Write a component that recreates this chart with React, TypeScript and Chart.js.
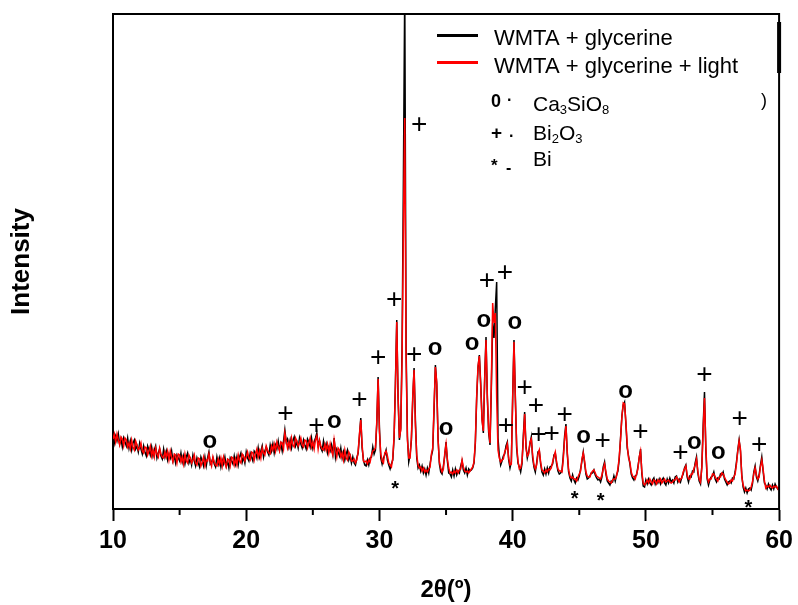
import React, { useEffect, useRef } from "react";
import { Chart, registerables } from "chart.js";

Chart.register(...registerables);

// ---- data ----
const TWO_THETA_START = 10;
const TWO_THETA_STEP = 0.1;

// WMTA + glycerine (black), one value every 0.1° from 10° to 60°
const intensityGlycerine: number[] = [
  75, 65, 72, 67, 74, 64, 69, 61, 70, 66,
  62, 70, 60, 67, 58, 65, 68, 59, 62, 56,
  65, 59, 54, 62, 56, 52, 62, 58, 53, 61,
  52, 58, 62, 50, 55, 59, 52, 49, 59, 51,
  57, 48, 54, 50, 57, 47, 52, 45, 53, 50,
  47, 55, 46, 52, 44, 51, 55, 45, 49, 43,
  53, 47, 42, 50, 45, 41, 51, 47, 42, 51,
  42, 50, 56, 44, 46, 50, 44, 41, 51, 44,
  50, 41, 48, 44, 51, 42, 47, 40, 50, 47,
  44, 52, 44, 51, 43, 51, 55, 46, 51, 45,
  56, 50, 47, 55, 51, 47, 57, 55, 50, 60,
  51, 57, 62, 51, 57, 61, 56, 53, 63, 57,
  64, 55, 63, 59, 67, 58, 64, 57, 67, 78,
  66, 69, 61, 68, 60, 67, 71, 62, 66, 60,
  70, 64, 60, 68, 63, 59, 69, 66, 61, 70,
  60, 66, 70, 75, 63, 67, 60, 57, 67, 59,
  64, 55, 61, 57, 63, 54, 70, 51, 59, 56,
  52, 60, 50, 56, 48, 54, 58, 48, 52, 45,
  51, 45, 43, 50, 55, 72, 90, 60, 48, 43,
  42, 48, 43, 50, 51, 61, 54, 58, 84, 131,
  80, 50, 44, 50, 53, 58, 48, 43, 39, 44,
  48, 70, 125, 188, 110, 68, 80, 160, 330, 520,
  160, 72, 46, 53, 68, 108, 140, 88, 50, 40,
  43, 37, 42, 35, 39, 33, 40, 35, 44, 52,
  58, 98, 143, 124, 70, 44, 36, 34, 42, 52,
  66, 47, 35, 34, 31, 38, 32, 39, 33, 37,
  35, 42, 47, 38, 35, 40, 33, 39, 37, 38,
  40, 45, 65, 110, 140, 153, 125, 90, 75, 130,
  171, 110, 75, 63, 120, 185, 170, 200, 226, 70,
  52, 43, 47, 52, 54, 62, 66, 48, 40, 46,
  110, 168, 112, 60, 45, 41, 36, 44, 72, 96,
  62, 50, 56, 64, 71, 50, 41, 36, 45, 56,
  57, 44, 36, 33, 39, 34, 40, 35, 41, 42,
  44, 53, 55, 44, 37, 34, 35, 37, 52, 72,
  84, 54, 36, 30, 27, 33, 28, 25, 30, 28,
  32, 39, 47, 56, 45, 34, 29, 30, 32, 35,
  35, 38, 33, 30, 28, 29, 26, 31, 41, 46,
  34, 27, 25, 23, 27, 26, 32, 27, 33, 37,
  49, 70, 92, 103, 106, 84, 60, 52, 44, 34,
  30, 28, 32, 33, 41, 50, 59, 34, 22, 21,
  28, 24, 29, 25, 23, 28, 30, 24, 28, 25,
  29, 24, 28, 30, 25, 23, 29, 25, 30, 26,
  28, 25, 31, 32, 26, 29, 26, 31, 34, 40,
  43, 31, 26, 32, 31, 37, 36, 45, 51, 35,
  27, 24, 42, 82, 116, 58, 29, 23, 28, 31,
  32, 36, 29, 26, 30, 29, 34, 33, 36, 29,
  26, 23, 26, 27, 25, 30, 29, 36, 46, 58,
  68, 57, 33, 21, 16, 20, 15, 19, 20, 18,
  24, 36, 42, 31, 27, 33, 43, 51, 37, 25,
  23, 19, 24, 20, 18, 23, 19, 24, 21, 19,
  20,
];

// WMTA + glycerine + light (red)
const intensityGlycerineLight: number[] = [
  69, 74, 66, 74, 68, 63, 71, 69, 62, 70,
  68, 61, 65, 59, 68, 61, 58, 67, 63, 58,
  60, 65, 57, 55, 61, 60, 53, 57, 62, 52,
  58, 51, 60, 54, 51, 60, 54, 51, 50, 56,
  51, 57, 48, 57, 51, 46, 54, 53, 45, 54,
  53, 46, 51, 44, 54, 47, 45, 53, 50, 45,
  48, 53, 45, 43, 50, 49, 42, 46, 51, 42,
  48, 47, 54, 47, 42, 51, 46, 43, 42, 49,
  44, 50, 42, 51, 45, 41, 49, 48, 42, 51,
  50, 43, 49, 43, 53, 47, 45, 54, 52, 47,
  51, 56, 50, 48, 56, 55, 48, 54, 59, 51,
  57, 50, 60, 55, 53, 62, 58, 55, 54, 62,
  58, 64, 57, 66, 61, 57, 66, 65, 59, 75,
  67, 60, 66, 60, 70, 63, 61, 70, 67, 62,
  65, 70, 63, 61, 68, 67, 60, 65, 70, 61,
  66, 59, 68, 72, 59, 68, 62, 59, 58, 64,
  58, 64, 55, 64, 57, 53, 68, 59, 51, 60,
  58, 51, 55, 48, 58, 50, 48, 56, 53, 47,
  47, 49, 45, 48, 56, 74, 88, 63, 47, 46,
  47, 44, 48, 46, 53, 57, 58, 60, 86, 129,
  76, 54, 47, 45, 55, 57, 52, 45, 43, 41,
  50, 72, 122, 186, 112, 70, 78, 150, 280, 390,
  150, 68, 50, 50, 71, 112, 138, 82, 53, 43,
  40, 41, 37, 40, 36, 38, 36, 39, 41, 54,
  60, 102, 141, 126, 68, 46, 40, 36, 39, 54,
  64, 49, 40, 35, 36, 34, 37, 35, 38, 35,
  38, 39, 48, 41, 37, 36, 37, 35, 37, 39,
  41, 46, 67, 112, 142, 152, 122, 88, 77, 128,
  168, 112, 78, 65, 125, 205, 185, 195, 110, 58,
  50, 46, 48, 49, 56, 59, 64, 50, 43, 44,
  108, 166, 110, 63, 47, 39, 40, 46, 68, 94,
  60, 52, 54, 66, 69, 53, 43, 39, 43, 54,
  58, 46, 38, 37, 35, 38, 36, 39, 38, 40,
  46, 51, 56, 46, 39, 37, 37, 36, 49, 69,
  82, 56, 38, 32, 30, 31, 29, 29, 27, 31,
  34, 37, 49, 55, 47, 36, 32, 31, 31, 35,
  37, 38, 35, 32, 31, 30, 29, 33, 39, 44,
  36, 29, 27, 26, 25, 28, 29, 29, 32, 39,
  51, 69, 91, 105, 104, 86, 63, 50, 46, 36,
  32, 31, 29, 34, 39, 51, 57, 36, 25, 23,
  25, 28, 25, 29, 26, 24, 28, 27, 24, 28,
  26, 29, 25, 27, 29, 26, 27, 28, 26, 25,
  26, 28, 28, 31, 29, 26, 29, 30, 36, 39,
  42, 33, 29, 29, 34, 34, 39, 43, 49, 37,
  29, 26, 40, 78, 110, 62, 31, 26, 29, 29,
  34, 34, 31, 29, 27, 31, 31, 35, 34, 31,
  28, 26, 24, 25, 28, 27, 31, 34, 44, 57,
  67, 59, 31, 23, 19, 17, 18, 17, 18, 21,
  26, 34, 40, 33, 29, 31, 41, 48, 39, 27,
  20, 22, 21, 23, 21, 20, 22, 21, 22, 19,
  21,
];

const seriesNames = ["WMTA + glycerine", "WMTA + glycerine + light"];
const seriesColors = ["#000000", "#ff0000"];

const xMin = 10;
const xMax = 60;
const xMinorStep = 5;
const xLabelStep = 10;

// phase marks: [2θ, intensity at which the symbol sits]
const ca3sio8Marks: number[][] = [
  [17.26, 66], [26.62, 86], [34.18, 159], [35.0, 79], [36.95, 164], [37.84, 187],
  [40.16, 185], [45.33, 71], [48.47, 116], [53.64, 65], [55.43, 55],
];
const bi2o3Marks: number[][] = [
  [22.95, 96], [25.27, 84], [28.49, 110], [29.91, 152], [31.11, 210], [32.98, 385],
  [32.6, 155], [38.07, 229], [39.42, 237], [39.49, 84], [40.91, 122], [41.74, 104],
  [41.96, 75], [42.93, 76], [43.91, 95], [46.75, 69], [49.6, 78], [52.59, 57],
  [54.39, 135], [57.05, 91], [58.5, 65],
];
const biMarks: number[][] = [[31.18, 25], [44.66, 15], [46.6, 13], [57.69, 6]];

const phaseSymbols = ["0", "+", "*"];
const phaseSeparators = ["·", "·", "-"];
// [text, isSubscript]
const phaseFormulas: [string, boolean][][] = [
  [["Ca", false], ["3", true], ["SiO", false], ["8", true]],
  [["Bi", false], ["2", true], ["O", false], ["3", true]],
  [["Bi", false]],
];

const SANS = "'Liberation Sans', Arial, Helvetica, sans-serif";

const toPoints = (vals: number[]) =>
  vals.map((y, i) => ({ x: Math.round((TWO_THETA_START + i * TWO_THETA_STEP) * 10) / 10, y }));

const overlayPlugin = {
  id: "xrdOverlay",
  afterDatasetsDraw(chart: any) {
    const { ctx, scales } = chart;
    const xs = scales.x;
    const ys = scales.y;
    ctx.save();
    ctx.fillStyle = "#000";
    ctx.textAlign = "center";
    ctx.textBaseline = "alphabetic";
    const put = (marks: number[][], glyph: string, font: string, dy: number) => {
      ctx.font = font;
      for (const [t, h] of marks) {
        ctx.fillText(glyph, xs.getPixelForValue(t), ys.getPixelForValue(h) + dy);
      }
    };
    put(ca3sio8Marks, "o", `bold 24px ${SANS}`, 6.2);
    put(bi2o3Marks, "+", `28px ${SANS}`, 9.8);
    put(biMarks, "*", `bold 20px ${SANS}`, 11.6);
    ctx.restore();
  },
  afterDraw(chart: any) {
    const { ctx, chartArea: a, scales } = chart;
    const xs = scales.x;
    ctx.save();
    ctx.strokeStyle = "#000";
    ctx.fillStyle = "#000";
    ctx.lineWidth = 2;
    // top and right frame
    ctx.beginPath();
    ctx.moveTo(a.left - 1, a.top);
    ctx.lineTo(a.right, a.top);
    ctx.lineTo(a.right, a.bottom + 1);
    ctx.stroke();
    ctx.fillRect(a.right - 2, a.top + 8, 4, 51);
    // minor ticks
    xs.ticks.forEach((t: any) => {
      if (t.value % xLabelStep !== 0) {
        const px = xs.getPixelForValue(t.value);
        ctx.beginPath();
        ctx.moveTo(px, a.bottom);
        ctx.lineTo(px, a.bottom + 6);
        ctx.stroke();
      }
    });
    // series legend
    const lx0 = 437;
    const lx1 = 478;
    const tx = 494;
    const rowsY = [35.5, 62.5];
    const baseY = [45, 72.5];
    ctx.textAlign = "left";
    ctx.textBaseline = "alphabetic";
    ctx.font = `22px ${SANS}`;
    seriesNames.forEach((name, i) => {
      ctx.strokeStyle = seriesColors[i];
      ctx.lineWidth = 3;
      ctx.beginPath();
      ctx.moveTo(lx0, rowsY[i]);
      ctx.lineTo(lx1, rowsY[i]);
      ctx.stroke();
      ctx.fillStyle = "#000";
      ctx.fillText(name, tx, baseY[i]);
    });
    // phase legend
    const symX = 491;
    const sepX = [507, 509, 506];
    const symBase = [107, 139, 171];
    const sepBase = [105, 141, 173];
    const symFont = [`bold 18px ${SANS}`, `bold 19px ${SANS}`, `bold 17px ${SANS}`];
    const formulaBase = [111, 140, 166];
    phaseSymbols.forEach((s, i) => {
      ctx.font = symFont[i];
      ctx.fillText(s, symX, symBase[i]);
      ctx.font = `bold 16px ${SANS}`;
      ctx.fillText(phaseSeparators[i], sepX[i], sepBase[i]);
      let x = 533;
      for (const [txt, sub] of phaseFormulas[i]) {
        ctx.font = sub ? `13px ${SANS}` : `21px ${SANS}`;
        ctx.fillText(txt, x, formulaBase[i] + (sub ? 3 : 0));
        x += ctx.measureText(txt).width;
      }
    });
    ctx.font = `18px ${SANS}`;
    ctx.fillText(")", 761, 106);
    ctx.restore();
  },
};

export default function App() {
  const canvasRef = useRef<HTMLCanvasElement | null>(null);

  useEffect(() => {
    const canvas = canvasRef.current;
    if (!canvas) return;
    const chart = new Chart(canvas, {
      type: "line",
      data: {
        datasets: [
          {
            label: seriesNames[0],
            data: toPoints(intensityGlycerine),
            borderColor: seriesColors[0],
            borderWidth: 1.5,
            pointRadius: 0,
            tension: 0,
            order: 2,
          },
          {
            label: seriesNames[1],
            data: toPoints(intensityGlycerineLight),
            borderColor: seriesColors[1],
            borderWidth: 1.5,
            pointRadius: 0,
            tension: 0,
            order: 1,
          },
        ],
      },
      options: {
        responsive: false,
        animation: false,
        devicePixelRatio: 1,
        layout: { padding: { top: 14, right: 15, left: 0, bottom: 0 } },
        plugins: { legend: { display: false }, tooltip: { enabled: false } },
        scales: {
          x: {
            type: "linear",
            min: xMin,
            max: xMax,
            afterFit: (scale: any) => {
              scale.height = 96;
            },
            border: { display: true, width: 2, color: "#000" },
            grid: {
              display: true,
              drawOnChartArea: false,
              drawTicks: true,
              tickLength: 12,
              tickWidth: 2,
              tickColor: (c: any) =>
                c.tick && c.tick.value % xLabelStep === 0 ? "#000" : "rgba(0,0,0,0)",
            },
            ticks: {
              stepSize: xMinorStep,
              autoSkip: false,
              maxRotation: 0,
              padding: 5,
              color: "#000",
              font: { family: SANS, size: 25, weight: "bold" },
              callback: (v: any) => (Number(v) % xLabelStep === 0 ? String(v) : ""),
            },
            title: {
              display: true,
              text: "2θ(º)",
              color: "#000",
              font: { family: SANS, size: 24, weight: "bold" },
              padding: { top: 0, bottom: 0 },
            },
          },
          y: {
            type: "linear",
            min: -1,
            max: 494,
            afterFit: (scale: any) => {
              scale.width = 113;
            },
            border: { display: true, width: 2, color: "#000" },
            grid: { display: false },
            ticks: { display: false },
            title: {
              display: true,
              text: "Intensity",
              color: "#000",
              font: { family: SANS, size: 26, weight: "bold" },
              padding: { top: 6, bottom: 0 },
            },
          },
        },
      },
      plugins: [overlayPlugin],
    });
    return () => chart.destroy();
  }, []);

  return (
    <div
      style={{
        position: "fixed",
        left: 0,
        top: 0,
        width: 798,
        height: 605,
        background: "#fff",
      }}
    >
      <canvas ref={canvasRef} width={798} height={605} style={{ display: "block" }} />
    </div>
  );
}
